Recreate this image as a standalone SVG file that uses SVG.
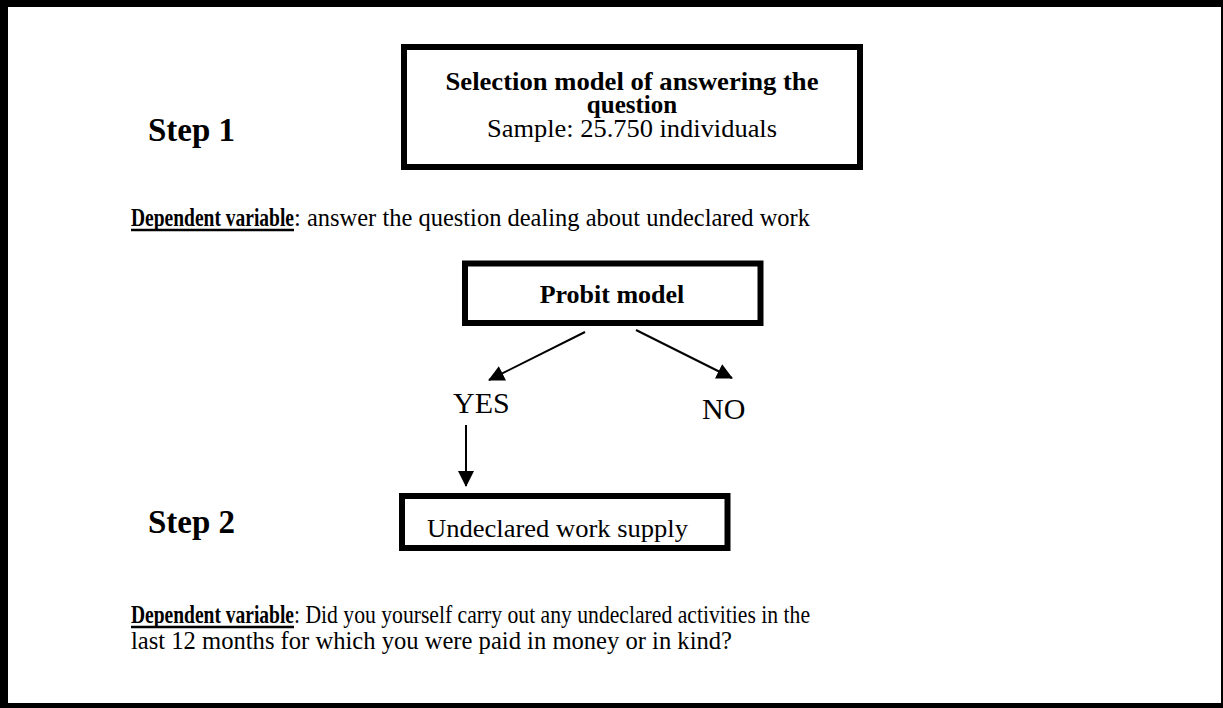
<svg xmlns="http://www.w3.org/2000/svg" width="1223" height="708" viewBox="0 0 1223 708">
<style>
  text { font-family: "Liberation Serif", "Times New Roman", serif; fill: #000; }
  .b { font-weight: bold; }
  .box { fill: #fff; stroke: #000; stroke-width: 6; }
  .conn { stroke: #000; stroke-width: 2; fill: none; marker-end: url(#ah); }
  .ul { stroke: #000; stroke-width: 2.5; }
</style>
<defs>
  <marker id="ah" markerUnits="userSpaceOnUse" markerWidth="16" markerHeight="16" viewBox="0 0 16 16" refX="15" refY="8" orient="auto">
    <path d="M0,0 L16,8 L0,16 Z" fill="#000"/>
  </marker>
</defs>
<rect width="1223" height="708" fill="#fff"/>
<path d="M0,0 H1223 V708 H0 Z M8,7 V703 H1221 V7 Z" fill="#000" fill-rule="evenodd"/>

<g id="step1"><text class="b" x="148" y="141" font-size="33">Step 1</text></g>

<g id="selection">
  <rect class="box" x="404" y="47" width="456" height="120"/>
  <text class="b" x="632" y="90" font-size="25" text-anchor="middle" textLength="373" lengthAdjust="spacingAndGlyphs">Selection model of answering the</text>
  <text class="b" x="632" y="113" font-size="25" text-anchor="middle">question</text>
  <text x="632" y="137" font-size="25" text-anchor="middle" textLength="290" lengthAdjust="spacingAndGlyphs">Sample: 25.750 individuals</text>
</g>

<g id="dep1">
  <text x="131" y="226" font-size="25"><tspan class="b" textLength="163" lengthAdjust="spacingAndGlyphs">Dependent variable</tspan><tspan textLength="516" lengthAdjust="spacingAndGlyphs">: answer the question dealing about undeclared work</tspan></text>
  <line class="ul" x1="131" y1="230" x2="294" y2="230"/>
</g>

<g id="probit">
  <rect class="box" x="465" y="263.5" width="295.5" height="59.5"/>
  <text class="b" x="612" y="303" font-size="26" text-anchor="middle">Probit model</text>
</g>

<g id="yes"><text x="453" y="413" font-size="30">YES</text></g>
<g id="no"><text x="702" y="419" font-size="30">NO</text></g>

<g id="connectors">
  <line class="conn" x1="585" y1="332" x2="489" y2="380"/>
  <line class="conn" x1="636" y1="330" x2="732" y2="378"/>
  <line class="conn" x1="466" y1="425" x2="466" y2="486"/>
</g>

<g id="step2"><text class="b" x="148" y="533" font-size="33">Step 2</text></g>

<g id="supply">
  <rect class="box" x="402" y="496" width="325.5" height="52"/>
  <text x="427" y="537" font-size="26" textLength="261" lengthAdjust="spacingAndGlyphs">Undeclared work supply</text>
</g>

<g id="dep2">
  <text x="131" y="623" font-size="25"><tspan class="b" textLength="163" lengthAdjust="spacingAndGlyphs">Dependent variable</tspan><tspan textLength="516" lengthAdjust="spacingAndGlyphs">: Did you yourself carry out any undeclared activities in the</tspan></text>
  <line class="ul" x1="131" y1="627" x2="294" y2="627"/>
  <text x="131" y="649" font-size="25" textLength="601" lengthAdjust="spacingAndGlyphs">last 12 months for which you were paid in money or in kind?</text>
</g>
</svg>
